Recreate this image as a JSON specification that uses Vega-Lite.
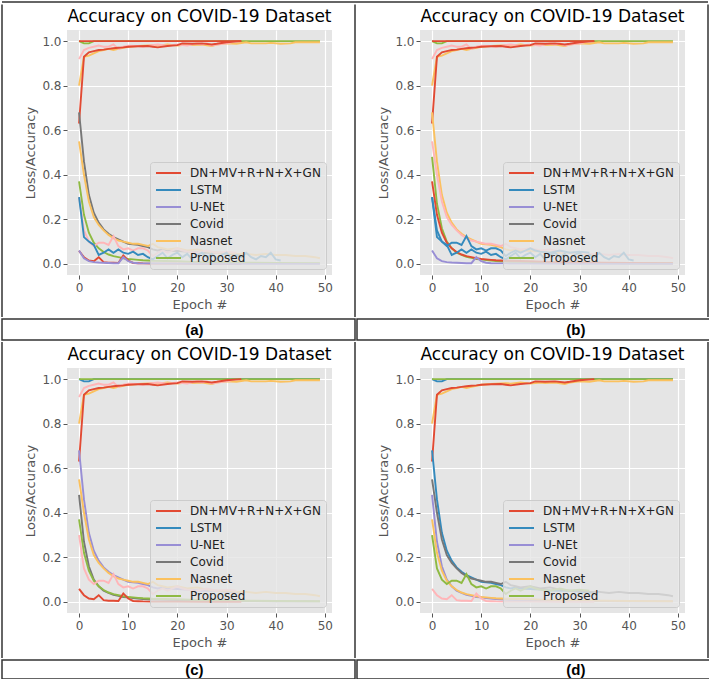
{
"$schema": "https://vega.github.io/schema/vega-lite/v6.json",
"padding": {"left": 1, "top": 1, "right": 1, "bottom": 0},
"spacing": 0,
"resolve": {"scale": {"color": "independent", "x": "independent", "y": "independent"}, "legend": {"color": "independent"}},
"datasets": {
"curves": [
{"c":"TD","x":0,"y":1},{"c":"TD","x":1,"y":0.99},{"c":"TD","x":2,"y":0.99},{"c":"TD","x":3,"y":1},{"c":"TD","x":49,"y":1},
{"c":"TF","x":0,"y":1},{"c":"TF","x":49,"y":1},
{"c":"TR","x":0,"y":1},{"c":"TR","x":33,"y":1},
{"c":"A2","x":0,"y":0.8},{"c":"A2","x":1,"y":0.93},{"c":"A2","x":2,"y":0.935},{"c":"A2","x":3,"y":0.945},{"c":"A2","x":4,"y":0.955},{"c":"A2","x":5,"y":0.96},{"c":"A2","x":6,"y":0.965},{"c":"A2","x":7,"y":0.96},{"c":"A2","x":8,"y":0.965},{"c":"A2","x":9,"y":0.97},{"c":"A2","x":10,"y":0.975},{"c":"A2","x":12,"y":0.978},{"c":"A2","x":13,"y":0.98},{"c":"A2","x":15,"y":0.982},{"c":"A2","x":16,"y":0.98},{"c":"A2","x":18,"y":0.985},{"c":"A2","x":20,"y":0.98},{"c":"A2","x":22,"y":0.985},{"c":"A2","x":23,"y":0.982},{"c":"A2","x":25,"y":0.985},{"c":"A2","x":27,"y":0.978},{"c":"A2","x":28,"y":0.985},{"c":"A2","x":30,"y":0.99},{"c":"A2","x":32,"y":0.988},{"c":"A2","x":34,"y":0.995},{"c":"A2","x":35,"y":0.99},{"c":"A2","x":38,"y":0.99},{"c":"A2","x":39,"y":0.992},{"c":"A2","x":41,"y":0.988},{"c":"A2","x":43,"y":0.99},{"c":"A2","x":44,"y":0.995},{"c":"A2","x":49,"y":0.995},
{"c":"A3","x":0,"y":0.92},{"c":"A3","x":1,"y":0.96},{"c":"A3","x":2,"y":0.97},{"c":"A3","x":3,"y":0.975},{"c":"A3","x":4,"y":0.98},{"c":"A3","x":5,"y":0.975},{"c":"A3","x":6,"y":0.975},{"c":"A3","x":7,"y":0.985},{"c":"A3","x":8,"y":0.965},{"c":"A3","x":9,"y":0.975},{"c":"A3","x":10,"y":0.98},{"c":"A3","x":12,"y":0.978},{"c":"A3","x":13,"y":0.975},{"c":"A3","x":14,"y":0.98},{"c":"A3","x":16,"y":0.985},{"c":"A3","x":18,"y":0.98},{"c":"A3","x":20,"y":0.985},{"c":"A3","x":22,"y":0.98},{"c":"A3","x":24,"y":0.99},{"c":"A3","x":25,"y":0.985},{"c":"A3","x":26,"y":0.99},{"c":"A3","x":27,"y":0.98},{"c":"A3","x":28,"y":0.985},{"c":"A3","x":30,"y":0.99},{"c":"A3","x":31,"y":0.995},
{"c":"A1","x":0,"y":0.63},{"c":"A1","x":1,"y":0.93},{"c":"A1","x":2,"y":0.95},{"c":"A1","x":3,"y":0.955},{"c":"A1","x":4,"y":0.96},{"c":"A1","x":5,"y":0.962},{"c":"A1","x":6,"y":0.965},{"c":"A1","x":7,"y":0.968},{"c":"A1","x":8,"y":0.97},{"c":"A1","x":9,"y":0.972},{"c":"A1","x":10,"y":0.975},{"c":"A1","x":12,"y":0.977},{"c":"A1","x":14,"y":0.978},{"c":"A1","x":15,"y":0.975},{"c":"A1","x":16,"y":0.972},{"c":"A1","x":18,"y":0.978},{"c":"A1","x":20,"y":0.982},{"c":"A1","x":21,"y":0.99},{"c":"A1","x":23,"y":0.988},{"c":"A1","x":25,"y":0.99},{"c":"A1","x":27,"y":0.985},{"c":"A1","x":28,"y":0.988},{"c":"A1","x":30,"y":0.995},{"c":"A1","x":33,"y":1},
{"c":"L1","x":0,"y":0.68},{"c":"L1","x":1,"y":0.46},{"c":"L1","x":2,"y":0.31},{"c":"L1","x":3,"y":0.23},{"c":"L1","x":4,"y":0.185},{"c":"L1","x":5,"y":0.155},{"c":"L1","x":6,"y":0.135},{"c":"L1","x":7,"y":0.12},{"c":"L1","x":8,"y":0.11},{"c":"L1","x":9,"y":0.1},{"c":"L1","x":10,"y":0.09},{"c":"L1","x":11,"y":0.088},{"c":"L1","x":12,"y":0.085},{"c":"L1","x":13,"y":0.08},{"c":"L1","x":14,"y":0.075},{"c":"L1","x":15,"y":0.065},{"c":"L1","x":16,"y":0.06},{"c":"L1","x":17,"y":0.065},{"c":"L1","x":18,"y":0.06},{"c":"L1","x":20,"y":0.058},{"c":"L1","x":22,"y":0.055},{"c":"L1","x":25,"y":0.05},{"c":"L1","x":28,"y":0.05},{"c":"L1","x":30,"y":0.045},{"c":"L1","x":33,"y":0.04},
{"c":"L2","x":0,"y":0.55},{"c":"L2","x":1,"y":0.4},{"c":"L2","x":2,"y":0.28},{"c":"L2","x":3,"y":0.21},{"c":"L2","x":4,"y":0.175},{"c":"L2","x":5,"y":0.15},{"c":"L2","x":6,"y":0.13},{"c":"L2","x":7,"y":0.115},{"c":"L2","x":8,"y":0.105},{"c":"L2","x":9,"y":0.1},{"c":"L2","x":10,"y":0.095},{"c":"L2","x":11,"y":0.09},{"c":"L2","x":12,"y":0.09},{"c":"L2","x":13,"y":0.085},{"c":"L2","x":14,"y":0.08},{"c":"L2","x":15,"y":0.09},{"c":"L2","x":16,"y":0.075},{"c":"L2","x":17,"y":0.07},{"c":"L2","x":18,"y":0.065},{"c":"L2","x":20,"y":0.07},{"c":"L2","x":22,"y":0.06},{"c":"L2","x":24,"y":0.065},{"c":"L2","x":26,"y":0.055},{"c":"L2","x":28,"y":0.05},{"c":"L2","x":30,"y":0.05},{"c":"L2","x":32,"y":0.045},{"c":"L2","x":34,"y":0.045},{"c":"L2","x":36,"y":0.04},{"c":"L2","x":38,"y":0.045},{"c":"L2","x":40,"y":0.04},{"c":"L2","x":42,"y":0.04},{"c":"L2","x":44,"y":0.035},{"c":"L2","x":46,"y":0.035},{"c":"L2","x":48,"y":0.03},{"c":"L2","x":49,"y":0.025},
{"c":"L3","x":0,"y":0.48},{"c":"L3","x":1,"y":0.27},{"c":"L3","x":2,"y":0.16},{"c":"L3","x":3,"y":0.1},{"c":"L3","x":4,"y":0.07},{"c":"L3","x":5,"y":0.05},{"c":"L3","x":6,"y":0.04},{"c":"L3","x":7,"y":0.032},{"c":"L3","x":8,"y":0.027},{"c":"L3","x":9,"y":0.022},{"c":"L3","x":10,"y":0.02},{"c":"L3","x":11,"y":0.017},{"c":"L3","x":12,"y":0.015},{"c":"L3","x":13,"y":0.013},{"c":"L3","x":14,"y":0.012},{"c":"L3","x":15,"y":0.01},{"c":"L3","x":20,"y":0.008},{"c":"L3","x":25,"y":0.006},{"c":"L3","x":30,"y":0.005},{"c":"L3","x":35,"y":0.004},{"c":"L3","x":40,"y":0.003},{"c":"L3","x":49,"y":0.002},
{"c":"L4","x":0,"y":0.37},{"c":"L4","x":1,"y":0.22},{"c":"L4","x":2,"y":0.14},{"c":"L4","x":3,"y":0.095},{"c":"L4","x":4,"y":0.07},{"c":"L4","x":5,"y":0.053},{"c":"L4","x":6,"y":0.042},{"c":"L4","x":7,"y":0.035},{"c":"L4","x":8,"y":0.03},{"c":"L4","x":9,"y":0.025},{"c":"L4","x":10,"y":0.022},{"c":"L4","x":11,"y":0.02},{"c":"L4","x":12,"y":0.018},{"c":"L4","x":13,"y":0.016},{"c":"L4","x":14,"y":0.015},{"c":"L4","x":15,"y":0.014},{"c":"L4","x":20,"y":0.012},{"c":"L4","x":25,"y":0.008},{"c":"L4","x":30,"y":0.006},{"c":"L4","x":35,"y":0.005},{"c":"L4","x":40,"y":0.004},{"c":"L4","x":49,"y":0.003},
{"c":"J1","x":0,"y":0.3},{"c":"J1","x":1,"y":0.15},{"c":"J1","x":2,"y":0.1},{"c":"J1","x":3,"y":0.08},{"c":"J1","x":4,"y":0.095},{"c":"J1","x":5,"y":0.095},{"c":"J1","x":6,"y":0.085},{"c":"J1","x":7,"y":0.125},{"c":"J1","x":8,"y":0.08},{"c":"J1","x":9,"y":0.065},{"c":"J1","x":10,"y":0.07},{"c":"J1","x":11,"y":0.06},{"c":"J1","x":12,"y":0.07},{"c":"J1","x":13,"y":0.07},{"c":"J1","x":14,"y":0.06},{"c":"J1","x":15,"y":0.035},{"c":"J1","x":16,"y":0.05},{"c":"J1","x":17,"y":0.06},{"c":"J1","x":18,"y":0.05},{"c":"J1","x":19,"y":0.06},{"c":"J1","x":20,"y":0.07},{"c":"J1","x":21,"y":0.06},{"c":"J1","x":22,"y":0.055},{"c":"J1","x":24,"y":0.05},{"c":"J1","x":26,"y":0.06},{"c":"J1","x":28,"y":0.05},{"c":"J1","x":30,"y":0.055},{"c":"J1","x":32,"y":0.05},
{"c":"J2","x":0,"y":0.3},{"c":"J2","x":1,"y":0.12},{"c":"J2","x":2,"y":0.1},{"c":"J2","x":3,"y":0.085},{"c":"J2","x":4,"y":0.04},{"c":"J2","x":5,"y":0.05},{"c":"J2","x":6,"y":0.065},{"c":"J2","x":7,"y":0.05},{"c":"J2","x":8,"y":0.065},{"c":"J2","x":9,"y":0.05},{"c":"J2","x":10,"y":0.045},{"c":"J2","x":11,"y":0.055},{"c":"J2","x":12,"y":0.04},{"c":"J2","x":13,"y":0.045},{"c":"J2","x":14,"y":0.03},{"c":"J2","x":15,"y":0.02},{"c":"J2","x":16,"y":0.035},{"c":"J2","x":17,"y":0.05},{"c":"J2","x":18,"y":0.025},{"c":"J2","x":19,"y":0.04},{"c":"J2","x":20,"y":0.05},{"c":"J2","x":21,"y":0.03},{"c":"J2","x":22,"y":0.045},{"c":"J2","x":23,"y":0.02},{"c":"J2","x":24,"y":0.04},{"c":"J2","x":25,"y":0.05},{"c":"J2","x":26,"y":0.03},{"c":"J2","x":27,"y":0.045},{"c":"J2","x":28,"y":0.02},{"c":"J2","x":29,"y":0.04},{"c":"J2","x":30,"y":0.05},{"c":"J2","x":31,"y":0.025},{"c":"J2","x":32,"y":0.04},{"c":"J2","x":33,"y":0.03},{"c":"J2","x":34,"y":0.05},{"c":"J2","x":35,"y":0.03},{"c":"J2","x":36,"y":0.02},{"c":"J2","x":37,"y":0.035},{"c":"J2","x":38,"y":0.03},{"c":"J2","x":39,"y":0.05},{"c":"J2","x":40,"y":0.02},{"c":"J2","x":41,"y":0.015},
{"c":"S1","x":0,"y":0.058},{"c":"S1","x":1,"y":0.03},{"c":"S1","x":2,"y":0.015},{"c":"S1","x":3,"y":0.012},{"c":"S1","x":4,"y":0.03},{"c":"S1","x":5,"y":0.008},{"c":"S1","x":6,"y":0.005},{"c":"S1","x":7,"y":0.005},{"c":"S1","x":8,"y":0.004},{"c":"S1","x":9,"y":0.038},{"c":"S1","x":10,"y":0.015},{"c":"S1","x":11,"y":0.004},{"c":"S1","x":12,"y":0.003},{"c":"S1","x":13,"y":0.002},{"c":"S1","x":15,"y":0.001},{"c":"S1","x":20,"y":0.001},{"c":"S1","x":25,"y":0},{"c":"S1","x":33,"y":0},
{"c":"S2","x":0,"y":0.06},{"c":"S2","x":1,"y":0.025},{"c":"S2","x":2,"y":0.012},{"c":"S2","x":3,"y":0.008},{"c":"S2","x":4,"y":0.006},{"c":"S2","x":5,"y":0.005},{"c":"S2","x":6,"y":0.004},{"c":"S2","x":7,"y":0.003},{"c":"S2","x":8,"y":0.003},{"c":"S2","x":9,"y":0.03},{"c":"S2","x":10,"y":0.012},{"c":"S2","x":11,"y":0.005},{"c":"S2","x":12,"y":0.003},{"c":"S2","x":13,"y":0.002},{"c":"S2","x":15,"y":0.002},{"c":"S2","x":20,"y":0.001},{"c":"S2","x":30,"y":0},{"c":"S2","x":49,"y":0}
]
},
"vconcat": [
{"width": 706, "height": 1, "data": {"values": [{}]},
 "mark": {"type": "rule", "color": "#333", "strokeWidth": 1.5}, "encoding": {"y": {"datum": 1, "type": "quantitative", "scale": {"domain": [0, 1]}, "axis": null}}},
{"spacing": 21, "resolve": {"scale": {"color": "independent", "x": "independent", "y": "independent"}, "legend": {"color": "independent"}}, "hconcat": [
 {"width": 1, "height": 287, "data": {"values": [{}]}, "mark": {"type": "rule", "color": "#333", "strokeWidth": 1.5}, "encoding": {"x": {"datum": 0, "type": "quantitative", "scale": {"domain": [0, 1]}, "axis": null}, "y": {"datum": 0, "type": "quantitative", "scale": {"domain": [0, 1]}, "axis": null}, "y2": {"datum": 1.0889}}},
 {"width": 265, "height": 245, "view": {"fill": "#E5E5E5", "stroke": null},
  "title": "Accuracy on COVID-19 Dataset",
  "data": {"name": "curves"},
  "transform": [
   {"lookup": "c", "from": {"data": {"values": [{"c":"TD","m":"Proposed"},{"c":"TR","m":"DN+MV+R+N+X+GN"},{"c":"A1","m":"DN+MV+R+N+X+GN"},{"c":"A2","m":"Nasnet"},{"c":"A3","m":"Pink"},{"c":"L1","m":"Covid"},{"c":"L2","m":"Nasnet"},{"c":"L4","m":"Proposed"},{"c":"J1","m":"Pink"},{"c":"J2","m":"LSTM"},{"c":"S1","m":"DN+MV+R+N+X+GN"},{"c":"S2","m":"U-NEt"}]}, "key": "c", "fields": ["m"]}},
   {"filter": "isValid(datum.m)"}
  ],
  "mark": {"type": "line", "strokeWidth": 1.9},
  "encoding": {
   "x": {"field": "x", "type": "quantitative", "scale": {"domain": [-2.45, 51.45], "nice": false, "zero": false}, "axis": {"values": [0,10,20,30,40,50], "title": "Epoch #"}},
   "y": {"field": "y", "type": "quantitative", "scale": {"domain": [-0.05, 1.05], "nice": false}, "axis": {"values": [0,0.2,0.4,0.6,0.8,1], "format": ".1f", "title": "Loss/Accuracy"}},
   "color": {"field": "m", "type": "nominal", "scale": {"domain": ["DN+MV+R+N+X+GN","LSTM","U-NEt","Covid","Nasnet","Proposed","Pink"], "range": ["#E24A33","#348ABD","#988ED5","#777777","#FBC15E","#8EBA42","#FFB5B8"]}, "legend": {"values": ["DN+MV+R+N+X+GN","LSTM","U-NEt","Covid","Nasnet","Proposed"], "orient": "bottom-right", "title": null}},
   "detail": {"field": "c"}
  }},
 {"width": 1, "height": 287, "data": {"values": [{}]}, "mark": {"type": "rule", "color": "#333", "strokeWidth": 1.5}, "encoding": {"x": {"datum": 0, "type": "quantitative", "scale": {"domain": [0, 1]}, "axis": null}, "y": {"datum": 0, "type": "quantitative", "scale": {"domain": [0, 1]}, "axis": null}, "y2": {"datum": 1.0889}}},
 {"width": 265, "height": 245, "view": {"fill": "#E5E5E5", "stroke": null},
  "title": "Accuracy on COVID-19 Dataset",
  "data": {"name": "curves"},
  "transform": [
   {"lookup": "c", "from": {"data": {"values": [{"c":"TD","m":"Proposed"},{"c":"TR","m":"DN+MV+R+N+X+GN"},{"c":"A1","m":"DN+MV+R+N+X+GN"},{"c":"A2","m":"Nasnet"},{"c":"A3","m":"Pink"},{"c":"L1","m":"Nasnet"},{"c":"L2","m":"Pink"},{"c":"L3","m":"Proposed"},{"c":"L4","m":"DN+MV+R+N+X+GN"},{"c":"J1","m":"LSTM"},{"c":"J2","m":"LSTM"},{"c":"S2","m":"U-NEt"}]}, "key": "c", "fields": ["m"]}},
   {"filter": "isValid(datum.m)"}
  ],
  "mark": {"type": "line", "strokeWidth": 1.9},
  "encoding": {
   "x": {"field": "x", "type": "quantitative", "scale": {"domain": [-2.45, 51.45], "nice": false, "zero": false}, "axis": {"values": [0,10,20,30,40,50], "title": "Epoch #"}},
   "y": {"field": "y", "type": "quantitative", "scale": {"domain": [-0.05, 1.05], "nice": false}, "axis": {"values": [0,0.2,0.4,0.6,0.8,1], "format": ".1f", "title": "Loss/Accuracy"}},
   "color": {"field": "m", "type": "nominal", "scale": {"domain": ["DN+MV+R+N+X+GN","LSTM","U-NEt","Covid","Nasnet","Proposed","Pink"], "range": ["#E24A33","#348ABD","#988ED5","#777777","#FBC15E","#8EBA42","#FFB5B8"]}, "legend": {"values": ["DN+MV+R+N+X+GN","LSTM","U-NEt","Covid","Nasnet","Proposed"], "orient": "bottom-right", "title": null}},
   "detail": {"field": "c"}
  }},
 {"width": 1, "height": 287, "data": {"values": [{}]}, "mark": {"type": "rule", "color": "#333", "strokeWidth": 1.5}, "encoding": {"x": {"datum": 0, "type": "quantitative", "scale": {"domain": [0, 1]}, "axis": null}, "y": {"datum": 0, "type": "quantitative", "scale": {"domain": [0, 1]}, "axis": null}, "y2": {"datum": 1.0889}}}
]},
{"spacing": 0, "resolve": {"scale": {"x": "independent", "y": "independent"}}, "hconcat": [
 {"width": 353, "height": 21, "view": {"stroke": "#333", "strokeWidth": 1.5, "fill": null}, "data": {"values": [{}]}, "mark": {"type": "text", "font": "Liberation Sans", "fontSize": 15, "fontWeight": "bold", "color": "black"}, "encoding": {"x": {"datum": 0.545, "type": "quantitative", "scale": {"domain": [0, 1]}, "axis": null}, "y": {"datum": 0.5, "type": "quantitative", "scale": {"domain": [0, 1]}, "axis": null}, "text": {"value": "(a)"}}},
 {"width": 353, "height": 21, "view": {"stroke": "#333", "strokeWidth": 1.5, "fill": null}, "data": {"values": [{}]}, "mark": {"type": "text", "font": "Liberation Sans", "fontSize": 15, "fontWeight": "bold", "color": "black"}, "encoding": {"x": {"datum": 0.62, "type": "quantitative", "scale": {"domain": [0, 1]}, "axis": null}, "y": {"datum": 0.5, "type": "quantitative", "scale": {"domain": [0, 1]}, "axis": null}, "text": {"value": "(b)"}}}
]},
{"spacing": 21, "resolve": {"scale": {"color": "independent", "x": "independent", "y": "independent"}, "legend": {"color": "independent"}}, "hconcat": [
 {"width": 1, "height": 290, "data": {"values": [{}]}, "mark": {"type": "rule", "color": "#333", "strokeWidth": 1.5}, "encoding": {"x": {"datum": 0, "type": "quantitative", "scale": {"domain": [0, 1]}, "axis": null}, "y": {"datum": 0, "type": "quantitative", "scale": {"domain": [0, 1]}, "axis": null}, "y2": {"datum": 1.0897}}},
 {"width": 265, "height": 245, "view": {"fill": "#E5E5E5", "stroke": null},
  "title": "Accuracy on COVID-19 Dataset",
  "data": {"name": "curves"},
  "transform": [
   {"lookup": "c", "from": {"data": {"values": [{"c":"TD","m":"LSTM"},{"c":"TF","m":"Proposed"},{"c":"A1","m":"DN+MV+R+N+X+GN"},{"c":"A2","m":"Nasnet"},{"c":"A3","m":"Pink"},{"c":"L1","m":"U-NEt"},{"c":"L2","m":"Nasnet"},{"c":"L3","m":"Covid"},{"c":"L4","m":"Proposed"},{"c":"J1","m":"Pink"},{"c":"S1","m":"DN+MV+R+N+X+GN"}]}, "key": "c", "fields": ["m"]}},
   {"filter": "isValid(datum.m)"}
  ],
  "mark": {"type": "line", "strokeWidth": 1.9},
  "encoding": {
   "x": {"field": "x", "type": "quantitative", "scale": {"domain": [-2.45, 51.45], "nice": false, "zero": false}, "axis": {"values": [0,10,20,30,40,50], "title": "Epoch #"}},
   "y": {"field": "y", "type": "quantitative", "scale": {"domain": [-0.05, 1.05], "nice": false}, "axis": {"values": [0,0.2,0.4,0.6,0.8,1], "format": ".1f", "title": "Loss/Accuracy"}},
   "color": {"field": "m", "type": "nominal", "scale": {"domain": ["DN+MV+R+N+X+GN","LSTM","U-NEt","Covid","Nasnet","Proposed","Pink"], "range": ["#E24A33","#348ABD","#988ED5","#777777","#FBC15E","#8EBA42","#FFB5B8"]}, "legend": {"values": ["DN+MV+R+N+X+GN","LSTM","U-NEt","Covid","Nasnet","Proposed"], "orient": "bottom-right", "title": null}},
   "detail": {"field": "c"}
  }},
 {"width": 1, "height": 290, "data": {"values": [{}]}, "mark": {"type": "rule", "color": "#333", "strokeWidth": 1.5}, "encoding": {"x": {"datum": 0, "type": "quantitative", "scale": {"domain": [0, 1]}, "axis": null}, "y": {"datum": 0, "type": "quantitative", "scale": {"domain": [0, 1]}, "axis": null}, "y2": {"datum": 1.0897}}},
 {"width": 265, "height": 245, "view": {"fill": "#E5E5E5", "stroke": null},
  "title": "Accuracy on COVID-19 Dataset",
  "data": {"name": "curves"},
  "transform": [
   {"lookup": "c", "from": {"data": {"values": [{"c":"TD","m":"LSTM"},{"c":"TF","m":"Proposed"},{"c":"A1","m":"DN+MV+R+N+X+GN"},{"c":"A2","m":"Nasnet"},{"c":"L1","m":"LSTM"},{"c":"L2","m":"Covid"},{"c":"L3","m":"U-NEt"},{"c":"L4","m":"Nasnet"},{"c":"J1","m":"Proposed"},{"c":"S1","m":"Pink"}]}, "key": "c", "fields": ["m"]}},
   {"filter": "isValid(datum.m)"}
  ],
  "mark": {"type": "line", "strokeWidth": 1.9},
  "encoding": {
   "x": {"field": "x", "type": "quantitative", "scale": {"domain": [-2.45, 51.45], "nice": false, "zero": false}, "axis": {"values": [0,10,20,30,40,50], "title": "Epoch #"}},
   "y": {"field": "y", "type": "quantitative", "scale": {"domain": [-0.05, 1.05], "nice": false}, "axis": {"values": [0,0.2,0.4,0.6,0.8,1], "format": ".1f", "title": "Loss/Accuracy"}},
   "color": {"field": "m", "type": "nominal", "scale": {"domain": ["DN+MV+R+N+X+GN","LSTM","U-NEt","Covid","Nasnet","Proposed","Pink"], "range": ["#E24A33","#348ABD","#988ED5","#777777","#FBC15E","#8EBA42","#FFB5B8"]}, "legend": {"values": ["DN+MV+R+N+X+GN","LSTM","U-NEt","Covid","Nasnet","Proposed"], "orient": "bottom-right", "title": null}},
   "detail": {"field": "c"}
  }},
 {"width": 1, "height": 290, "data": {"values": [{}]}, "mark": {"type": "rule", "color": "#333", "strokeWidth": 1.5}, "encoding": {"x": {"datum": 0, "type": "quantitative", "scale": {"domain": [0, 1]}, "axis": null}, "y": {"datum": 0, "type": "quantitative", "scale": {"domain": [0, 1]}, "axis": null}, "y2": {"datum": 1.0897}}}
]},
{"spacing": 0, "resolve": {"scale": {"x": "independent", "y": "independent"}}, "hconcat": [
 {"width": 353, "height": 19, "view": {"stroke": "#333", "strokeWidth": 1.5, "fill": null}, "data": {"values": [{}]}, "mark": {"type": "text", "font": "Liberation Sans", "fontSize": 15, "fontWeight": "bold", "color": "black"}, "encoding": {"x": {"datum": 0.545, "type": "quantitative", "scale": {"domain": [0, 1]}, "axis": null}, "y": {"datum": 0.5, "type": "quantitative", "scale": {"domain": [0, 1]}, "axis": null}, "text": {"value": "(c)"}}},
 {"width": 353, "height": 19, "view": {"stroke": "#333", "strokeWidth": 1.5, "fill": null}, "data": {"values": [{}]}, "mark": {"type": "text", "font": "Liberation Sans", "fontSize": 15, "fontWeight": "bold", "color": "black"}, "encoding": {"x": {"datum": 0.62, "type": "quantitative", "scale": {"domain": [0, 1]}, "axis": null}, "y": {"datum": 0.5, "type": "quantitative", "scale": {"domain": [0, 1]}, "axis": null}, "text": {"value": "(d)"}}}
]}
],
"config": {
 "font": "DejaVu Sans",
 "view": {"stroke": null},
 "axis": {"gridColor": "#FFFFFF", "gridWidth": 1.2, "domain": false, "tickColor": "#555555", "tickSize": 4, "labelColor": "#555555", "labelFontSize": 12, "labelFont": "DejaVu Sans", "titleFont": "DejaVu Sans", "titleFontSize": 13, "titleFontWeight": "normal", "titleColor": "#555555"},
 "axisX": {"labelPadding": 3, "titlePadding": 5},
 "axisY": {"labelPadding": 2, "titlePadding": 4},
 "title": {"fontSize": 17, "fontWeight": "normal", "font": "DejaVu Sans", "color": "#000000", "offset": 0},
 "legend": {"fillColor": "rgba(229,229,229,0.8)", "strokeColor": "#cccccc", "cornerRadius": 3, "padding": 5, "offset": 6, "labelFontSize": 12, "labelColor": "#222222", "labelFont": "DejaVu Sans", "symbolType": "M-1,0H4", "symbolSize": 100, "symbolStrokeWidth": 2, "labelOffset": 23, "rowPadding": 5}
}
}
